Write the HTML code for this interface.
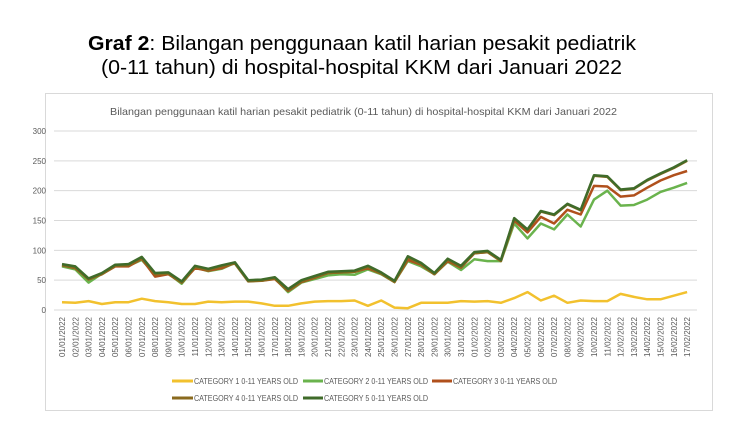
<!DOCTYPE html>
<html><head><meta charset="utf-8"><style>
body{margin:0;background:#fff;width:729px;height:423px;overflow:hidden;font-family:"Liberation Sans",sans-serif}
</style></head><body>
<svg width="729" height="423" xmlns="http://www.w3.org/2000/svg" font-family="Liberation Sans, sans-serif">
<text x="88" y="50" font-size="20" fill="#000" textLength="548" lengthAdjust="spacingAndGlyphs"><tspan font-weight="bold">Graf 2</tspan>: Bilangan penggunaan katil harian pesakit pediatrik</text>
<text x="101" y="74" font-size="20" fill="#000" textLength="521" lengthAdjust="spacingAndGlyphs">(0-11 tahun) di hospital-hospital KKM dari Januari 2022</text>
<rect x="45.5" y="93.5" width="667" height="317" fill="none" stroke="#d9d9d9"/>
<text x="110" y="115" font-size="10.5" fill="#595959" textLength="507" lengthAdjust="spacingAndGlyphs">Bilangan penggunaan katil harian pesakit pediatrik (0-11 tahun) di hospital-hospital KKM dari Januari 2022</text>
<g id="g"></g>
<g font-size="8" fill="#595959" lengthAdjust="spacingAndGlyphs">
<line x1="172" y1="381" x2="193" y2="381" stroke="#f2c12e" stroke-width="3"/><text x="194" y="384" textLength="104" lengthAdjust="spacingAndGlyphs">CATEGORY 1 0-11 YEARS OLD</text>
<line x1="303" y1="381" x2="323" y2="381" stroke="#6ab34d" stroke-width="3"/><text x="324" y="384" textLength="104" lengthAdjust="spacingAndGlyphs">CATEGORY 2 0-11 YEARS OLD</text>
<line x1="432" y1="381" x2="452" y2="381" stroke="#b0501c" stroke-width="3"/><text x="453" y="384" textLength="104" lengthAdjust="spacingAndGlyphs">CATEGORY 3 0-11 YEARS OLD</text>
<line x1="172" y1="398" x2="193" y2="398" stroke="#8a6a1e" stroke-width="3"/><text x="194" y="401" textLength="104" lengthAdjust="spacingAndGlyphs">CATEGORY 4 0-11 YEARS OLD</text>
<line x1="303" y1="398" x2="323" y2="398" stroke="#3f6b2a" stroke-width="3"/><text x="324" y="401" textLength="104" lengthAdjust="spacingAndGlyphs">CATEGORY 5 0-11 YEARS OLD</text>
</g>
</svg>
<script>
var g=document.getElementById('g'),h='';
function Y(v){return 310-v*179/300}
function X(i){return 62+i*13.3}
for(var v=0;v<=300;v+=50){h+='<line x1="54" x2="697" y1="'+Y(v)+'" y2="'+Y(v)+'" stroke="#d9d9d9"/>';h+='<text x="46" y="'+(Y(v)+3)+'" text-anchor="end" font-size="8" fill="#595959">'+v+'</text>';}
for(var i=0;i<48;i++){var d=i<31?i+1:i-30,m=i<31?'01':'02';var s=(d<10?'0':'')+d+'/'+m+'/2022';var x=X(i)+3;
h+='<text transform="translate('+x+',317) rotate(-90)" text-anchor="end" font-size="8" fill="#595959">'+s+'</text>';}
var c5=[77,73,53,62,76,77,89,62,63,48,74,69,75,80,50,51,55,35,50,57,64,65,66,74,63,49,90,79,62,86,74,97,99,84,154,135,166,160,178,168,226,224,202,204,218,229,239,251];
var c3=c5.slice(0,34).map(function(v,i){return v-[2,3,1,2,3,4,3,6,3,2,4,3,5,1,1,2,3,3,3,3,2,2,2,4,2,2,6,3,2,4,3,2,2,1][i]}).concat([150,130,156,145,168,160,208,207,190,192,205,217,226,233]);
var c2=c5.slice(0,31).map(function(v,i){return v-[4,5,7,1,2,3,5,3,2,4,3,4,6,1,0,1,2,5,4,5,6,5,7,6,3,2,8,6,2,5,7][i]}).concat([85,82,82,145,120,145,135,160,140,185,200,175,176,185,198,205,213]);
var c4=c5.map(function(v,i){return v-(i>33?1:2)});
var c1=[13,12,15,10,13,13,19,15,13,10,10,14,13,14,14,11,7,7,11,14,15,15,16,7,16,4,3,12,12,12,15,14,15,12,20,30,16,24,12,16,15,15,27,22,18,18,24,30];
function P(a,c,w){return '<polyline fill="none" stroke="'+c+'" stroke-width="'+w+'" stroke-linejoin="round" points="'+a.map(function(v,i){return X(i).toFixed(1)+','+Y(v).toFixed(1)}).join(' ')+'"/>'}
h+=P(c1,'#f2c12e',2.5)+P(c2,'#6ab34d',2.5)+P(c3,'#b0501c',2.5)+P(c4,'#8a6a1e',2.5)+P(c5,'#3f6b2a',2.5);
g.innerHTML=h;
</script>
</body></html>
